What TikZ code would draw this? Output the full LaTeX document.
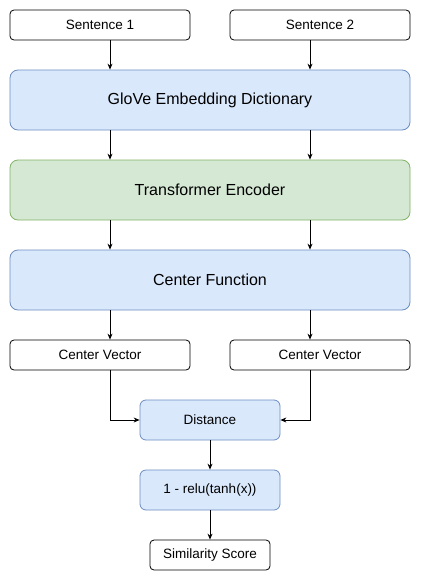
\documentclass[tikz,border=0pt]{standalone}
\usepackage{fontspec}
\setmainfont{Liberation Sans}
\usetikzlibrary{arrows.meta, positioning}

\definecolor{blueFill}{HTML}{DAE8FC}
\definecolor{blueLine}{HTML}{6C8EBF}
\definecolor{greenFill}{HTML}{D5E8D4}
\definecolor{greenLine}{HTML}{82B366}

\tikzset{
    plainbox/.style={draw=black, fill=white, rounded corners=4pt, line width=0.8pt,
        minimum width=180pt, minimum height=30pt, inner sep=0pt,
        font=\fontsize{13.5}{15}\selectfont},
    widebox/.style={rounded corners=8pt, line width=0.8pt,
        minimum width=400pt, minimum height=60pt, inner sep=0pt,
        font=\fontsize{16}{18}\selectfont},
    bluebox/.style={draw=blueLine, fill=blueFill},
    greenbox/.style={draw=greenLine, fill=greenFill},
    opbox/.style={bluebox, rounded corners=6pt, line width=0.8pt,
        minimum width=140pt, minimum height=40pt, inner sep=0pt,
        font=\fontsize{13.5}{15}\selectfont},
    flow/.style={->, line width=0.8pt}
}

\begin{document}
\begin{tikzpicture}[x=1pt, y=-1pt, >={Stealth[length=6pt,width=5pt]}]
    \useasboundingbox (0,0) rectangle (421,581);

    % Inputs
    \node[plainbox] (sentA) at (100,25) {Sentence 1};
    \node[plainbox] (sentB) at (320,25) {Sentence 2};

    % Shared layers
    \node[widebox, bluebox] (glove) at (210,100) {GloVe Embedding Dictionary};
    \node[widebox, greenbox] (encoder) at (210,190) {Transformer Encoder};
    \node[widebox, bluebox] (center) at (210,280) {Center Function};

    % Outputs of each branch
    \node[plainbox] (vecA) at (100,355) {Center Vector};
    \node[plainbox] (vecB) at (320,355) {Center Vector};

    % Scoring
    \node[opbox] (dist) at (210,420) {Distance};
    \node[opbox] (squash) at (210,490) {1 - relu(tanh(x))};
    \node[plainbox, minimum width=120pt] (score) at (210,555) {Similarity Score};

    % Connectors
    \draw[flow] (sentA.south -| 110,0) -- (110,0 |- glove.north);
    \draw[flow] (sentB.south -| 310,0) -- (310,0 |- glove.north);
    \draw[flow] (glove.south -| 110,0) -- (110,0 |- encoder.north);
    \draw[flow] (glove.south -| 310,0) -- (310,0 |- encoder.north);
    \draw[flow] (encoder.south -| 110,0) -- (110,0 |- center.north);
    \draw[flow] (encoder.south -| 310,0) -- (310,0 |- center.north);
    \draw[flow] (center.south -| 110,0) -- (110,0 |- vecA.north);
    \draw[flow] (center.south -| 310,0) -- (310,0 |- vecB.north);
    \draw[flow] (vecA.south -| 110,0) |- (dist.west);
    \draw[flow] (vecB.south -| 310,0) |- (dist.east);
    \draw[flow] (dist) -- (squash);
    \draw[flow] (squash) -- (score);
\end{tikzpicture}
\end{document}
